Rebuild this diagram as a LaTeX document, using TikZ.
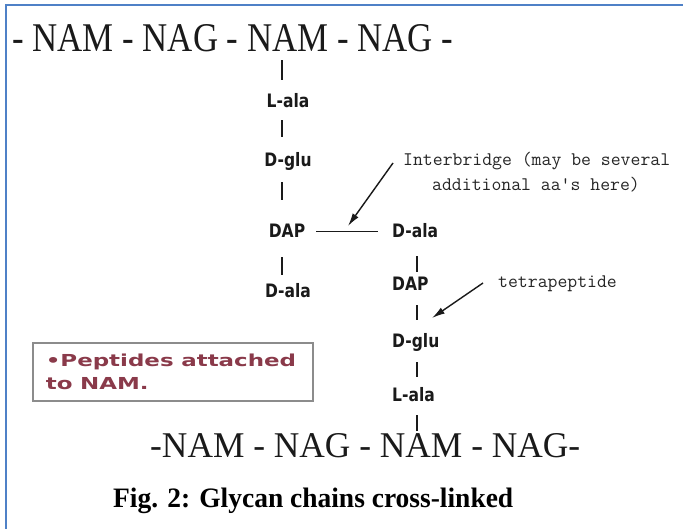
\documentclass[tikz,border=0pt]{standalone}
\usepackage{fontspec}
\usepackage{graphicx}
\setmainfont{Liberation Serif}
\newfontfamily\aafont{DejaVu Sans}
\usetikzlibrary{arrows.meta}
\definecolor{framebl}{HTML}{4F81C7}
\definecolor{notered}{HTML}{8A3A4A}
\definecolor{boxgray}{HTML}{8C8C8C}
\definecolor{inkc}{HTML}{1A1A1A}
\newcommand\aalbl[1]{\scalebox{0.84}[1]{#1}}
\begin{document}
\begin{tikzpicture}[x=1pt,y=-1pt,
  chain/.style={inner sep=0pt, text depth=0pt, text=inkc, anchor=base west},
  aa/.style={inner sep=0pt, text height=13pt, text depth=0pt, text=inkc,
    font=\aafont\bfseries\fontsize{18.5}{18.5}\selectfont},
  aaL/.style={aa, anchor=base},
  aaR/.style={aa, anchor=base west},
  bar/.style={draw=inkc, line width=1.2pt},
  mono/.style={inner sep=0pt, text=black!85, font=\ttfamily\fontsize{19.2}{25}\selectfont},
  ptr/.style={draw=inkc, line width=1.4pt, -{Latex[length=13pt,width=7pt]}},
  notebox/.style={draw=boxgray, line width=1.6pt, anchor=north west,
    minimum height=58pt, text width=254pt, inner xsep=13pt, align=left,
    text=notered, font=\aafont\bfseries\fontsize{16.5}{23}\selectfont}
]
\useasboundingbox (0,0) rectangle (683,529);
\fill[white] (0,0) rectangle (683,529);
\draw[framebl, line width=2pt] (6,529) -- (6,5) -- (683,5);

% glycan chains
\node[chain] (topchain) at (12,52) {\resizebox{441pt}{27pt}{- NAM - NAG - NAM - NAG -}};
\node[chain] (botchain) at (150,457) {\resizebox{430pt}{24pt}{-NAM - NAG - NAM - NAG-}};

% column coordinates
\coordinate (colL) at (282,0);
\coordinate (colR) at (417,0);

% left peptide
\node[aaL] (lalaL) at (288,108) {\aalbl{L-ala}};
\node[aaL] (dgluL) at (288,167) {\aalbl{D-glu}};
\node[aaL] (dapL)  at (287,238) {\aalbl{DAP}};
\node[aaL] (dalaL) at (288,298) {\aalbl{D-ala}};

% right peptide
\node[aaR] (dalaR) at (392,238) {\aalbl{D-ala}};
\node[aaR] (dapR)  at (392,291) {\aalbl{DAP}};
\node[aaR] (dgluR) at (392,348) {\aalbl{D-glu}};
\node[aaR] (lalaR) at (392,402) {\aalbl{L-ala}};

% bars left
\draw[bar, shorten <=8pt, shorten >=15pt] (topchain.south -| colL) -- (lalaL.north -| colL);
\draw[bar, shorten <=12pt, shorten >=17pt] (lalaL.south -| colL) -- (dgluL.north -| colL);
\draw[bar, shorten <=15pt, shorten >=25pt] (dgluL.south -| colL) -- (dapL.north -| colL);
\draw[bar, shorten <=19pt, shorten >=10pt] (dapL.south -| colL) -- (dalaL.north -| colL);

% bars right
\draw[bar, shorten <=18pt, shorten >=6pt] (dalaR.south -| colR) -- (dapR.north -| colR);
\draw[bar, shorten <=14pt, shorten >=15pt] (dapR.south -| colR) -- (dgluR.north -| colR);
\draw[bar, shorten <=14pt, shorten >=12pt] (dgluR.south -| colR) -- (lalaR.north -| colR);
\draw[bar, shorten <=13pt, shorten >=2pt] (lalaR.south -| colR) -- (botchain.north -| colR);

% interbridge
\draw[bar, shorten <=11pt, shorten >=14pt] (dapL.east) -- (dalaR.west);

% labels and pointers
\node[mono, anchor=north west, align=left] (ib) at (403,152)
  {Interbridge (may be several\\\hspace*{29pt}additional aa's here)};
\coordinate (ibtip) at (348,226);
\draw[ptr] ([xshift=-10pt,yshift=-11pt]ib.north west) -- (ibtip);

\node[mono, anchor=base west] (tp) at (498,288) {tetrapeptide};
\coordinate (tptip) at (432,318);
\draw[ptr] ([xshift=-15pt,yshift=5pt]tp.base west) -- (tptip);

% note box
\node[notebox] (note) at (32,342)
  {\scalebox{1.39}[1]{\textbullet Peptides attached}\\\scalebox{1.39}[1]{to NAM.}};

% caption
\node[chain, text=black] (cap) at (113,507)
  {\resizebox{400pt}{19.5pt}{\bfseries Fig. 2: Glycan chains cross-linked}};
\end{tikzpicture}
\end{document}
